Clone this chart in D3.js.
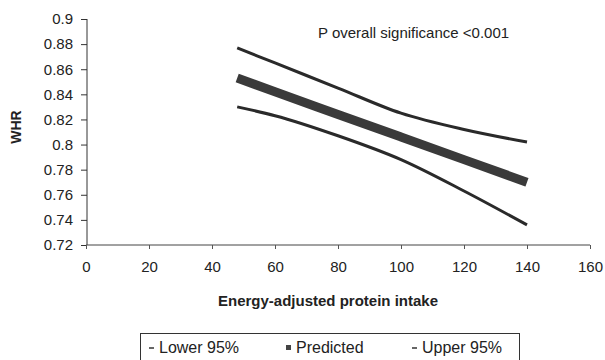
<!DOCTYPE html>
<html>
<head>
<meta charset="utf-8">
<script src="https://cdn.jsdelivr.net/npm/d3@7"></script>
<style>
  body { margin: 0; background: #fff; }
  text { font-family: "Liberation Sans", Arial, sans-serif; fill: #222; }
</style>
</head>
<body>
<svg id="chart" width="605" height="360"></svg>
<script>
// values
var intake = [48, 60, 80, 100, 120, 140];
var predicted = [0.853, 0.842, 0.824, 0.806, 0.788, 0.770];
var upper95 = [0.877, 0.865, 0.845, 0.825, 0.812, 0.802];
var lower95 = [0.830, 0.823, 0.807, 0.788, 0.763, 0.736];
var xTicks = [0, 20, 40, 60, 80, 100, 120, 140, 160];
var yTicks = [0.72, 0.74, 0.76, 0.78, 0.8, 0.82, 0.84, 0.86, 0.88, 0.9];
var legendLabels = ["Lower 95%", "Predicted", "Upper 95%"];

var svg = d3.select("#chart");

var x = d3.scaleLinear().domain([0, 160]).range([86, 590]);
var y = d3.scaleLinear().domain([0.72, 0.9]).range([245, 19]);

// y axis
var yAxis = svg.append("g")
    .attr("transform", "translate(87,0)")
    .call(d3.axisLeft(y).tickValues(yTicks).tickSize(6).tickPadding(8)
        .tickFormat(function(d) { return String(+d.toFixed(2)); }));
yAxis.selectAll("text").style("font-size", "15px");
yAxis.select(".domain").attr("d", "M0," + y(0.9) + "V" + y(0.72)).attr("stroke", "#333");
yAxis.selectAll(".tick line").attr("stroke", "#333");

// x axis
var xAxis = svg.append("g")
    .attr("transform", "translate(0,245)")
    .call(d3.axisBottom(x).tickValues(xTicks).tickSize(4).tickPadding(12));
xAxis.selectAll("text").style("font-size", "15px");
xAxis.select(".domain").attr("d", "M" + x(0) + ",0H" + x(160)).attr("stroke", "#444");
xAxis.selectAll(".tick line").attr("stroke", "#555");

// axis titles
svg.append("text")
    .attr("x", 328).attr("y", 306)
    .attr("text-anchor", "middle")
    .style("font-weight", "bold").style("font-size", "15px")
    .text("Energy-adjusted protein intake");

svg.append("text")
    .attr("transform", "translate(21,127) rotate(-90)")
    .attr("text-anchor", "middle")
    .style("font-weight", "bold").style("font-size", "14px")
    .text("WHR");

svg.append("text")
    .attr("x", 318).attr("y", 38)
    .style("font-size", "15px")
    .text("P overall significance <0.001");

// lines
var line = d3.line()
    .x(function(d) { return x(d[0]); })
    .y(function(d) { return y(d[1]); })
    .curve(d3.curveMonotoneX);

function pairs(vals) {
    return intake.map(function(v, i) { return [v, vals[i]]; });
}

svg.append("path")
    .attr("d", line(pairs(upper95)))
    .attr("fill", "none").attr("stroke", "#2a2a2a").attr("stroke-width", 3);

svg.append("path")
    .attr("d", line(pairs(lower95)))
    .attr("fill", "none").attr("stroke", "#2a2a2a").attr("stroke-width", 3);

svg.append("path")
    .attr("d", line(pairs(predicted)))
    .attr("fill", "none").attr("stroke", "#3a3a3a").attr("stroke-width", 9);

// legend
var lg = svg.append("g");
lg.append("rect")
    .attr("x", 140.5).attr("y", 333.5).attr("width", 379).attr("height", 40)
    .attr("fill", "none").attr("stroke", "#333");

var legendX = [149, 286, 412];
legendLabels.forEach(function(lbl, i) {
    var g = lg.append("g").attr("transform", "translate(" + legendX[i] + ",353)");
    if (i === 1) {
        g.append("rect").attr("x", 0).attr("y", -8).attr("width", 5).attr("height", 5)
            .attr("fill", "#444");
    } else {
        g.append("line").attr("x1", 0).attr("x2", 5).attr("y1", -5).attr("y2", -5)
            .attr("stroke", "#333").attr("stroke-width", 1.5);
    }
    g.append("text").attr("x", 10).attr("y", 0).style("font-size", "16px").text(lbl);
});
</script>
</body>
</html>
